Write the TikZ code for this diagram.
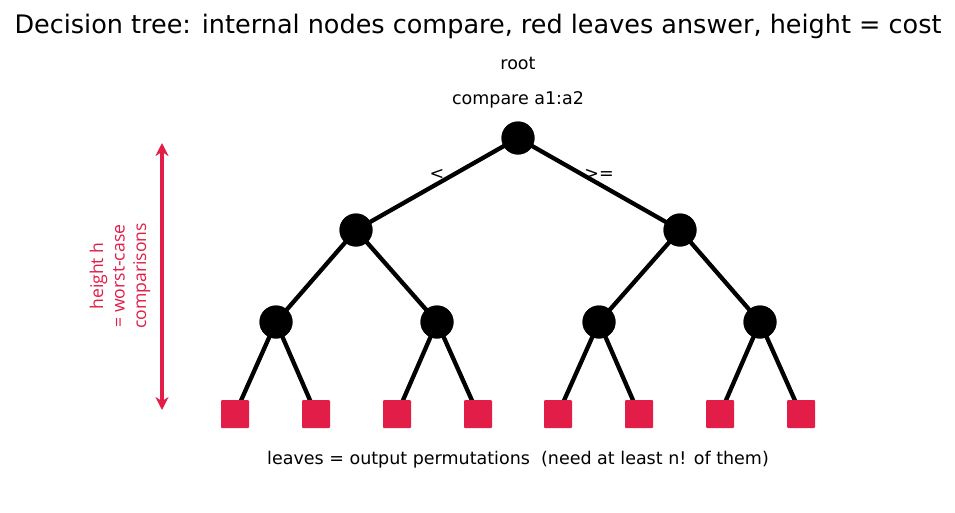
\documentclass[tikz,border=0pt]{standalone}
\usepackage{fontspec}
\setmainfont{DejaVu Sans}
\newfontfamily\labfont{Open Sans}
\usetikzlibrary{arrows.meta}
\definecolor{leafred}{RGB}{225,29,72}
\tikzset{
  inner/.style={circle,fill=black,minimum size=33pt,inner sep=0pt},
  leaf/.style={rectangle,fill=leafred,minimum size=28pt,inner sep=0pt,rounded corners=1pt},
  edge/.style={line width=4.3pt,black},
  txt/.style={inner sep=0pt,font=\fontsize{17.5}{20}\selectfont}
}
\begin{document}
\begin{tikzpicture}[x=1pt,y=-1pt]
\useasboundingbox (0,0) rectangle (955,512);
\node[inner sep=0pt,font=\fontsize{25.5}{28}\selectfont] (title) at (478,26) {Decision tree: internal nodes compare, red leaves answer, height = cost};
\node[txt] (rootlab) at (518,63) {root};
\node[txt] (cmplab) at (518,100) {compare a1:a2};
% nodes
\node[inner] (r) at (518,138) {};
\node[inner] (a) at (356,230) {};
\node[inner] (b) at (680,230) {};
\node[inner] (aa) at (276,322) {};
\node[inner] (ab) at (437,322) {};
\node[inner] (ba) at (599,322) {};
\node[inner] (bb) at (760,322) {};
\foreach \i/\x in {1/235,2/316,3/397,4/478,5/558,6/639,7/720,8/801}{
  \coordinate (c\i) at (\x,414);
}
\draw[edge] (r.center) -- (a.center);
\draw[edge] (r.center) -- (b.center);
\draw[edge] (a.center) -- (aa.center);
\draw[edge] (a.center) -- (ab.center);
\draw[edge] (b.center) -- (ba.center);
\draw[edge] (b.center) -- (bb.center);
\draw[edge] (aa.center) -- (c1);
\draw[edge] (aa.center) -- (c2);
\draw[edge] (ab.center) -- (c3);
\draw[edge] (ab.center) -- (c4);
\draw[edge] (ba.center) -- (c5);
\draw[edge] (ba.center) -- (c6);
\draw[edge] (bb.center) -- (c7);
\draw[edge] (bb.center) -- (c8);
\foreach \n in {r,a,b,aa,ab,ba,bb}{\node[inner] at (\n) {};}
\foreach \i in {1,...,8}{\node[leaf] (l\i) at (c\i) {};}
\node[txt] (lt) at (437,174) {<};
\node[txt] (ge) at (599,174) {>=};
\node[txt] (bottom) at (518,460) {leaves = output permutations\ \ (need at least n! of them)};
% height arrow
\coordinate (top) at (162,143);
\coordinate (bot) at (162,410);
\draw[leafred,line width=4pt,{Stealth[length=13pt,width=13pt]}-{Stealth[length=13pt,width=13pt]}] (top) -- (bot);
\node[rotate=90,align=center,text=leafred,font=\labfont\fontsize{17.6}{21.5}\selectfont,inner sep=0pt] (hlab) at (120,276) {height h\\= worst-case\\comparisons};
\end{tikzpicture}
\end{document}
